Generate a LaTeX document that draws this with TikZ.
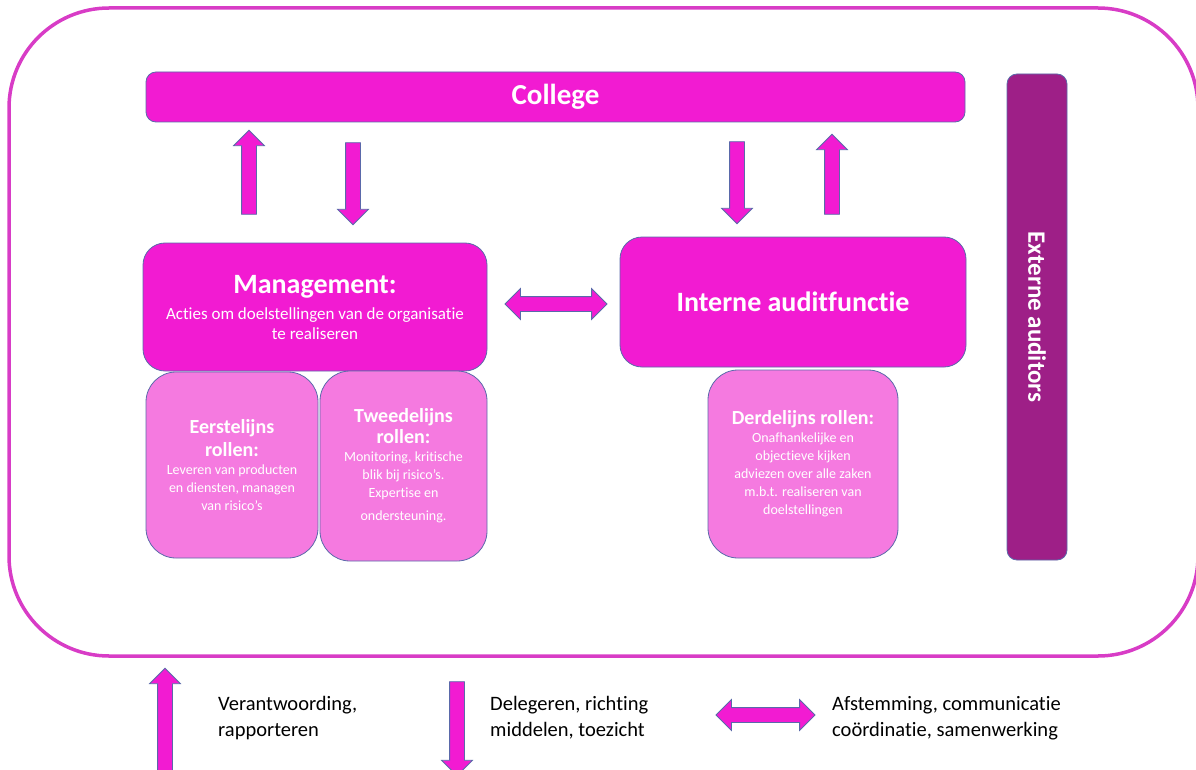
\documentclass[tikz,border=0pt]{standalone}
\usepackage{fontspec}
\setmainfont{Carlito}[Ligatures=CommonOff]
\usetikzlibrary{shapes.arrows}

\definecolor{magbox}{RGB}{242,27,210}
\definecolor{pinkbox}{RGB}{245,122,224}
\definecolor{purplebox}{RGB}{158,31,135}
\definecolor{edgeblue}{RGB}{90,105,170}
\definecolor{rimmag}{RGB}{216,60,198}

\newcommand{\fs}[2]{\fontsize{#1}{#2}\selectfont}
\newcommand{\rt}{\fs{20}{24}\bfseries}
\newcommand{\st}{\fs{14}{18}}

\tikzset{
  mainbox/.style={draw=edgeblue, fill=magbox, line width=0.8pt, rounded corners=22pt,
    text=white, align=center, inner sep=0pt},
  rolebox/.style={draw=edgeblue, fill=pinkbox, line width=0.8pt, rounded corners=30pt,
    text=white, align=center, inner sep=0pt, font=\st},
  blockarrow/.style={single arrow, draw=edgeblue, fill=magbox, line width=0.8pt,
    single arrow head extend=8pt, inner xsep=0pt, inner ysep=7pt, minimum width=30pt},
  twoarrow/.style={double arrow, draw=edgeblue, fill=magbox, line width=0.8pt,
    double arrow head extend=8pt, inner xsep=0pt, inner ysep=7pt, minimum width=30pt},
  legendtext/.style={anchor=west, align=left, inner sep=0pt, font=\fs{20.5}{26}}
}

\begin{document}
\begin{tikzpicture}[x=1pt,y=1pt,yscale=-1]
\useasboundingbox (0,0) rectangle (1196,770);

%Shape: Rounded Rectangle (frame)
\draw [rimmag, line width=3.5pt, rounded corners=100pt] (9,8) rectangle (1198,656);

%Shape: College bar
\node [mainbox, rounded corners=10pt, minimum width=819pt, minimum height=50pt,
  font=\fs{29}{34}\bfseries] (college) at (555.5,97) {College};
%Shape: Externe auditors bar
\node [mainbox, fill=purplebox, rounded corners=10pt, rotate=-90, minimum width=486pt,
  minimum height=60pt, font=\fs{25}{30}\bfseries] (extern) at (1037,317) {Externe auditors};

%Shape: Management
\node [mainbox, minimum width=344pt, minimum height=128pt, font=\fs{17}{20}] (mgmt) at (315,307)
  {\fs{28}{34}\bfseries Management:\\[6pt]
   \fs{17}{20}Acties om doelstellingen van de organisatie\\
   \fs{17}{20}te realiseren};
%Shape: Interne auditfunctie
\node [mainbox, minimum width=346pt, minimum height=130pt, font=\fs{28}{34}\bfseries]
  (iaf) at (793,302) {Interne auditfunctie};

%Shape: role boxes
\node [rolebox, minimum width=172pt, minimum height=186pt] (eerste) at (232,465)
  {\rt Eerstelijns\\[5pt] \rt rollen:\\ \st Leveren van producten\\
   \st en diensten, managen\\ \st van risico's};
\node [rolebox, minimum width=167pt, minimum height=190pt] (tweede) at (403.5,466)
  {\rt Tweedelijns\\[3pt] \rt rollen:\\ \st Monitoring, kritische\\
   \st blik bij risico's.\\ \st Expertise en\\[5pt] \st ondersteuning.};
\node [rolebox, minimum width=190pt, minimum height=188pt] (derde) at (803,464)
  {\rt Derdelijns rollen:\\ \st Onafhankelijke en\\ \st objectieve kijken\\
   \st adviezen over alle zaken\\ \st m.b.t. realiseren van\\ \st doelstellingen};

%Block arrows between the boxes
\node [blockarrow, rotate=90, minimum height=84pt] (mgmtup) at (249,176) {};
\node [blockarrow, rotate=-90, minimum height=82pt] (mgmtdown) at (353,180) {};
\node [blockarrow, rotate=-90, minimum height=82pt] (iafdown) at (737,179) {};
\node [blockarrow, rotate=90, minimum height=80pt] (iafup) at (832,178) {};
\node [twoarrow, minimum height=102pt] (mgmtiaf) at (556,304) {};

%Legend
\node [blockarrow, rotate=90, minimum height=118pt] (keyup) at (165,731) {};
\node [legendtext] (keyuptext) at (218,718) {Verantwoording,\\rapporteren};
\node [blockarrow, rotate=-90, minimum height=94pt] (keydown) at (457,725) {};
\node [legendtext] (keydowntext) at (490,718) {Delegeren, richting\\middelen, toezicht};
\node [twoarrow, minimum height=99pt] (keyboth) at (765.5,715) {};
\node [legendtext] (keybothtext) at (832,718) {Afstemming, communicatie\\coördinatie, samenwerking};

\end{tikzpicture}
\end{document}
